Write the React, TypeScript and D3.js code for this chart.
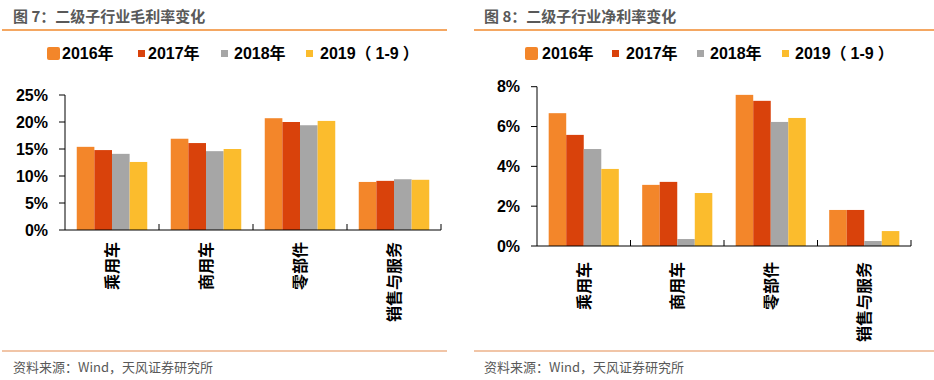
import React from "react";
import * as d3 from "d3";

const categories = ["乘用车", "商用车", "零部件", "销售与服务"];
const seriesNames = ["2016年", "2017年", "2018年", "2019（1-9）"];
const seriesColors = ["#F3862A", "#D9420B", "#A6A6A6", "#FBBC2D"];

const gross2016 = [15.4, 16.9, 20.7, 8.9];
const gross2017 = [14.8, 16.1, 20.0, 9.1];
const gross2018 = [14.1, 14.6, 19.4, 9.4];
const gross2019 = [12.6, 15.0, 20.2, 9.3];

const net2016 = [6.67, 3.07, 7.59, 1.81];
const net2017 = [5.58, 3.22, 7.29, 1.81];
const net2018 = [4.87, 0.35, 6.23, 0.25];
const net2019 = [3.87, 2.66, 6.43, 0.75];

const grossTicks = [0, 5, 10, 15, 20, 25];
const netTicks = [0, 2, 4, 6, 8];

const FONT = "'Liberation Sans', Arial, 'Noto Sans CJK SC', sans-serif";
const CJK = "'Noto Sans CJK SC', 'Liberation Sans', sans-serif";

type PanelProps = {
  title: string;
  series: number[][];
  ticks: number[];
  yMax: number;
  x0: number;
  x1: number;
  yTop: number;
  yBottom: number;
  legendSq: number[];
  legendTx: number[];
  lineX0: number;
  lineX1: number;
  titleX: number;
  catOffset: number;
};

function LegendLabel({ s }: { s: string }) {
  const m = s.match(/^(\d+)（(.*)）$/);
  if (!m) return <>{s}</>;
  return (
    <>
      <tspan>{m[1]}</tspan>
      <tspan>（</tspan>
      <tspan dx={4}>{m[2]}</tspan>
      <tspan dx={4}>）</tspan>
    </>
  );
}

function Panel(p: PanelProps) {
  const x = d3.scaleBand<string>().domain(categories).range([p.x0, p.x1]).paddingInner(0).paddingOuter(0);
  const bw = x.bandwidth();
  const pad = bw * 0.125;
  const xs = d3.scaleBand<string>().domain(seriesNames).range([pad, bw - pad]).padding(0);
  const y = d3.scaleLinear().domain([0, p.yMax]).range([p.yBottom, p.yTop]);
  return (
    <g>
      <text x={p.titleX} y={22} fontFamily={CJK} fontWeight="bold" fontSize={15} fill="#595959">
        {p.title}
      </text>
      <line x1={p.lineX0} x2={p.lineX1} y1={30} y2={30} stroke="#F08A2E" strokeWidth={1.5} />
      {seriesNames.map((s, i) => (
        <g key={s}>
          {i === 0 ? (
            <rect x={p.legendSq[i]} y={47} width={13} height={13} rx={2} fill={seriesColors[i]} />
          ) : (
            <rect x={p.legendSq[i]} y={50} width={7} height={7} fill={seriesColors[i]} />
          )}
          <text x={p.legendTx[i]} y={59} fontFamily={FONT} fontWeight="bold" fontSize={16} fill="#000">
            <LegendLabel s={s} />
          </text>
        </g>
      ))}
      {categories.map((c, ci) =>
        p.series.map((vals, si) => (
          <rect
            key={c + si}
            x={(x(c) as number) + (xs(seriesNames[si]) as number)}
            y={y(vals[ci])}
            width={xs.bandwidth()}
            height={p.yBottom - y(vals[ci])}
            fill={seriesColors[si]}
          />
        ))
      )}
      <line x1={p.x0} x2={p.x0} y1={p.yTop} y2={p.yBottom} stroke="#000" strokeWidth={1} />
      <line x1={p.x0} x2={p.x1} y1={p.yBottom} y2={p.yBottom} stroke="#000" strokeWidth={1} />
      {p.ticks.map((t) => (
        <g key={t}>
          <line x1={p.x0 - 6} x2={p.x0} y1={y(t)} y2={y(t)} stroke="#000" strokeWidth={1} />
          <text
            x={p.x0 - 17}
            y={y(t)}
            dy="0.35em"
            textAnchor="end"
            fontFamily={FONT}
            fontWeight="bold"
            fontSize={16}
            fill="#000"
          >
            {t + "%"}
          </text>
        </g>
      ))}
      {categories.map((c) => (
        <g key={c}>
          <line
            x1={(x(c) as number) + bw}
            x2={(x(c) as number) + bw}
            y1={p.yBottom - 6}
            y2={p.yBottom}
            stroke="#000"
            strokeWidth={1}
          />
          <text
            transform={`translate(${(x(c) as number) + bw / 2},${p.yBottom + p.catOffset}) rotate(-90)`}
            textAnchor="end"
            dy="0.36em"
            fontFamily={CJK}
            fontWeight="bold"
            fontSize={16}
            fill="#000"
          >
            {c}
          </text>
        </g>
      ))}
      <line x1={p.lineX0} x2={p.lineX1} y1={351} y2={351} stroke="#E38B50" strokeWidth={1.2} />
      <text x={p.titleX} y={372} fontFamily={CJK} fontSize={13} fill="#595959">
        资料来源：Wind，天风证券研究所
      </text>
    </g>
  );
}

export default function App() {
  return (
    <svg
      width={934}
      height={380}
      style={{ position: "absolute", left: 0, top: 0, background: "#fff" }}
    >
      <rect width={934} height={380} fill="#fff" />
      <Panel
        title="图 7：二级子行业毛利率变化"
        series={[gross2016, gross2017, gross2018, gross2019]}
        ticks={grossTicks}
        yMax={25}
        x0={65}
        x1={441}
        yTop={95}
        yBottom={230}
        legendSq={[47, 138, 221, 306]}
        legendTx={[62, 148, 234, 320]}
        lineX0={2}
        lineX1={447}
        titleX={13}
        catOffset={12}
      />
      <Panel
        title="图 8：二级子行业净利率变化"
        series={[net2016, net2017, net2018, net2019]}
        ticks={netTicks}
        yMax={8}
        x0={537}
        x1={911}
        yTop={86.7}
        yBottom={246}
        legendSq={[525, 612, 697, 782]}
        legendTx={[542, 626, 710, 795]}
        lineX0={474}
        lineX1={934}
        titleX={484}
        catOffset={16}
      />
    </svg>
  );
}
